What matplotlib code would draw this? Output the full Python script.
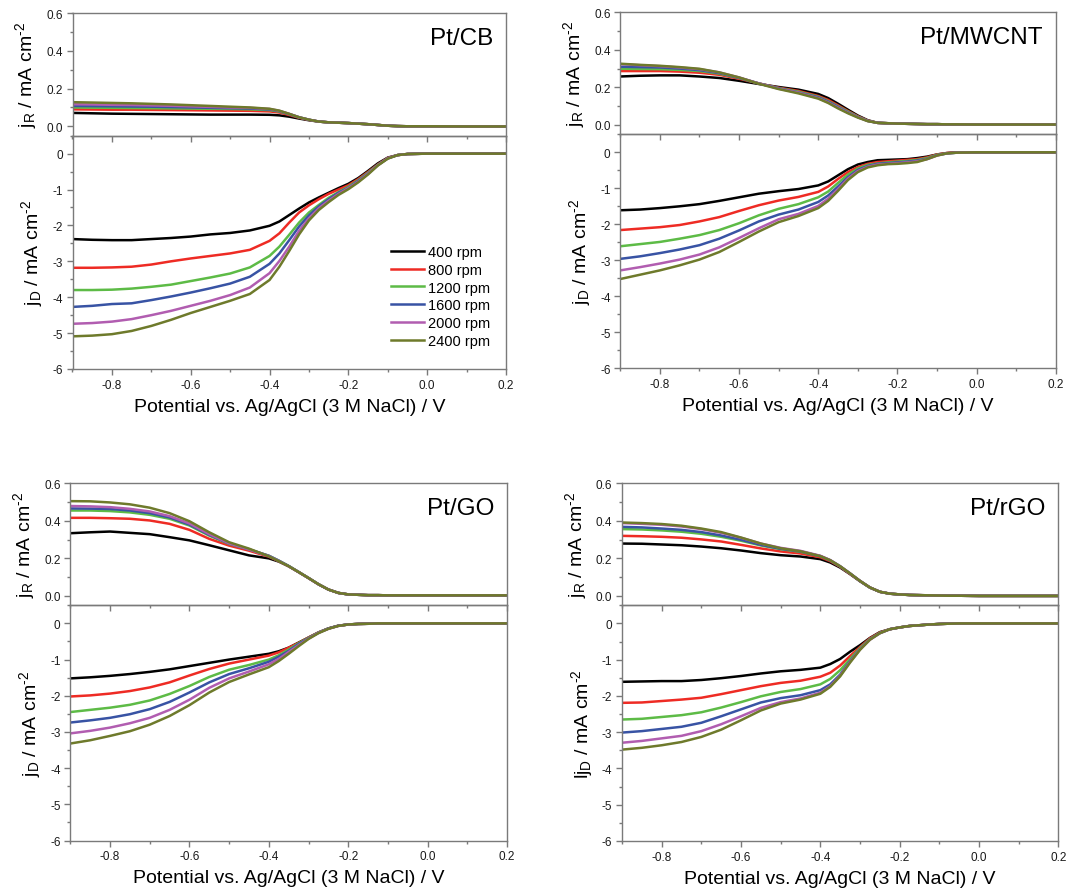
import matplotlib
matplotlib.use("Agg")
import matplotlib.pyplot as plt
from matplotlib.ticker import MultipleLocator, FuncFormatter

plt.rcParams['font.family'] = ['Liberation Sans', 'DejaVu Sans']
plt.rcParams['axes.unicode_minus'] = False
plt.rcParams['mathtext.fontset'] = 'custom'
plt.rcParams['mathtext.rm'] = 'Liberation Sans'
plt.rcParams['mathtext.it'] = 'Liberation Sans:italic'

# ---------------- data ----------------
potential = [-0.9, -0.85, -0.8, -0.75, -0.7, -0.65, -0.6, -0.55, -0.5, -0.45, -0.4, -0.375, -0.35,
             -0.325, -0.3, -0.275, -0.25, -0.225, -0.2, -0.175, -0.15, -0.125, -0.1, -0.075, -0.05,
             0.0, 0.1, 0.2]
rpm_labels = ["400 rpm", "800 rpm", "1200 rpm", "1600 rpm", "2000 rpm", "2400 rpm"]
panel_names = ["Pt/CB", "Pt/MWCNT", "Pt/GO", "Pt/rGO"]

_cb_tail = [.025, .021, .019, .017, .014, .011, .007, .003, .001, 0, 0, -.001, -.001]
cb_jr = [
    [.071, .069, .067, .066, .065, .064, .063, .062, .062, .062, .061, .058, .051, .041, .032] + _cb_tail,
    [.090, .089, .088, .088, .087, .086, .085, .084, .083, .082, .079, .073, .060, .045, .034] + _cb_tail,
    [.100, .099, .098, .097, .096, .095, .094, .093, .092, .090, .086, .078, .064, .047, .035] + _cb_tail,
    [.108, .107, .106, .105, .104, .102, .100, .098, .096, .094, .089, .080, .065, .048, .035] + _cb_tail,
    [.117, .116, .114, .113, .111, .109, .106, .103, .100, .098, .092, .082, .066, .048, .035] + _cb_tail,
    [.128, .126, .124, .122, .119, .116, .112, .108, .104, .100, .093, .083, .066, .048, .035] + _cb_tail,
]
cb_jd = [
    [-2.38, -2.40, -2.41, -2.41, -2.38, -2.35, -2.31, -2.25, -2.21, -2.14, -2.01, -1.89, -1.71, -1.53, -1.36, -1.22, -1.09, -0.96, -0.84, -0.68, -0.48, -0.27, -0.11, -0.04, -0.01, 0, 0, 0],
    [-3.18, -3.18, -3.17, -3.15, -3.09, -3.00, -2.92, -2.85, -2.78, -2.68, -2.43, -2.22, -1.92, -1.64, -1.44, -1.27, -1.12, -1.00, -0.88, -0.71, -0.51, -0.30, -0.12, -0.04, -0.01, 0, 0, 0],
    [-3.80, -3.80, -3.79, -3.76, -3.71, -3.65, -3.55, -3.45, -3.34, -3.17, -2.85, -2.59, -2.26, -1.92, -1.64, -1.43, -1.23, -1.07, -0.92, -0.74, -0.53, -0.31, -0.13, -0.04, -0.01, 0, 0, 0],
    [-4.27, -4.24, -4.19, -4.17, -4.08, -3.98, -3.87, -3.75, -3.62, -3.43, -3.07, -2.78, -2.41, -2.03, -1.72, -1.47, -1.27, -1.09, -0.95, -0.76, -0.55, -0.32, -0.13, -0.04, -0.01, 0, 0, 0],
    [-4.74, -4.72, -4.68, -4.61, -4.50, -4.38, -4.24, -4.10, -3.94, -3.73, -3.33, -2.99, -2.59, -2.15, -1.80, -1.52, -1.31, -1.12, -0.96, -0.78, -0.56, -0.32, -0.13, -0.04, -0.01, 0, 0, 0],
    [-5.09, -5.07, -5.03, -4.94, -4.80, -4.63, -4.44, -4.27, -4.10, -3.91, -3.52, -3.15, -2.71, -2.25, -1.86, -1.57, -1.35, -1.15, -0.99, -0.80, -0.58, -0.33, -0.14, -0.04, -0.01, 0, 0, 0],
]

_mw_tail = [.011, .009, .007, .006, .005, .004, .004, .003, .003, .002, .002, .002]
mw_jr = [
    [.258, .262, .264, .264, .258, .250, .235, .218, .202, .188, .165, .143, .113, .081, .050, .025] + _mw_tail,
    [.287, .287, .287, .284, .278, .267, .246, .221, .198, .181, .154, .133, .104, .074, .046, .023] + _mw_tail,
    [.299, .298, .297, .293, .287, .273, .250, .221, .196, .177, .150, .127, .099, .071, .044, .022] + _mw_tail,
    [.310, .308, .306, .300, .292, .276, .251, .221, .195, .173, .147, .124, .096, .067, .042, .021] + _mw_tail,
    [.324, .318, .313, .306, .297, .280, .253, .221, .193, .172, .143, .120, .092, .065, .041, .021] + _mw_tail,
    [.326, .320, .315, .308, .299, .280, .253, .219, .191, .168, .140, .117, .088, .062, .039, .020] + _mw_tail,
]
mw_jd = [
    [-1.61, -1.59, -1.55, -1.50, -1.44, -1.35, -1.25, -1.15, -1.08, -1.02, -0.92, -0.81, -0.64, -0.47, -0.34, -0.27, -0.22, -0.21, -0.20, -0.19, -0.16, -0.12, -0.06, -0.02, 0, 0, 0, 0],
    [-2.16, -2.12, -2.08, -2.02, -1.92, -1.80, -1.63, -1.47, -1.34, -1.24, -1.10, -0.95, -0.74, -0.55, -0.41, -0.32, -0.27, -0.25, -0.23, -0.21, -0.19, -0.14, -0.06, -0.02, 0, 0, 0, 0],
    [-2.61, -2.55, -2.49, -2.40, -2.30, -2.16, -1.97, -1.75, -1.57, -1.44, -1.25, -1.09, -0.85, -0.62, -0.45, -0.35, -0.31, -0.28, -0.26, -0.24, -0.21, -0.16, -0.07, -0.03, -0.01, 0, 0, 0],
    [-2.96, -2.89, -2.80, -2.70, -2.58, -2.40, -2.17, -1.92, -1.73, -1.59, -1.38, -1.20, -0.95, -0.69, -0.49, -0.38, -0.32, -0.30, -0.28, -0.26, -0.23, -0.18, -0.08, -0.03, -0.01, 0, 0, 0],
    [-3.28, -3.19, -3.09, -2.98, -2.84, -2.64, -2.38, -2.11, -1.86, -1.71, -1.49, -1.29, -1.02, -0.73, -0.52, -0.40, -0.34, -0.32, -0.30, -0.28, -0.25, -0.19, -0.09, -0.03, -0.01, 0, 0, 0],
    [-3.52, -3.40, -3.28, -3.14, -2.98, -2.77, -2.49, -2.20, -1.94, -1.77, -1.55, -1.35, -1.07, -0.77, -0.55, -0.42, -0.36, -0.33, -0.32, -0.30, -0.27, -0.19, -0.09, -0.03, -0.01, 0, 0, 0],
]

_go_tail = [.034, .016, .008, .006, .004, .004, .003, .003, .003, .003, .003, .003]
go_jr = [
    [.334, .339, .343, .336, .329, .313, .296, .270, .243, .216, .200, .183, .158, .127, .095, .062] + _go_tail,
    [.416, .416, .414, .411, .402, .384, .352, .304, .268, .241, .209, .185, .158, .127, .095, .062] + _go_tail,
    [.455, .455, .452, .445, .432, .411, .375, .321, .277, .248, .214, .188, .160, .128, .096, .063] + _go_tail,
    [.466, .465, .463, .455, .441, .418, .380, .325, .279, .248, .214, .188, .159, .127, .095, .062] + _go_tail,
    [.479, .477, .473, .464, .450, .425, .386, .329, .280, .248, .212, .186, .158, .127, .095, .062] + _go_tail,
    [.505, .504, .498, .488, .470, .441, .398, .339, .286, .252, .211, .185, .158, .127, .095, .062] + _go_tail,
]
_go_dtail = [-0.03, -0.015, -0.01, 0, 0, 0, 0, 0, 0, 0]
go_jd = [
    [-1.52, -1.49, -1.45, -1.40, -1.34, -1.27, -1.18, -1.09, -1.00, -0.92, -0.84, -0.77, -0.67, -0.53, -0.39, -0.25, -0.14, -0.065] + _go_dtail,
    [-2.02, -1.99, -1.94, -1.87, -1.77, -1.63, -1.44, -1.26, -1.11, -1.00, -0.89, -0.80, -0.67, -0.54, -0.39, -0.25, -0.14, -0.065] + _go_dtail,
    [-2.45, -2.39, -2.33, -2.25, -2.13, -1.95, -1.73, -1.48, -1.28, -1.15, -1.00, -0.88, -0.72, -0.55, -0.40, -0.25, -0.14, -0.065] + _go_dtail,
    [-2.74, -2.68, -2.61, -2.51, -2.37, -2.17, -1.91, -1.63, -1.40, -1.24, -1.06, -0.92, -0.76, -0.57, -0.41, -0.26, -0.14, -0.065] + _go_dtail,
    [-3.04, -2.97, -2.88, -2.76, -2.61, -2.39, -2.11, -1.78, -1.52, -1.33, -1.13, -0.98, -0.79, -0.60, -0.42, -0.26, -0.15, -0.07] + _go_dtail,
    [-3.32, -3.23, -3.11, -2.98, -2.80, -2.56, -2.26, -1.91, -1.62, -1.41, -1.21, -1.04, -0.84, -0.63, -0.43, -0.27, -0.15, -0.07] + _go_dtail,
]

_rg_tail = [.022, .012, .008, .005, .004, .003, .002, .001, .001, 0, 0, 0]
rg_jr = [
    [.279, .278, .274, .270, .263, .254, .242, .228, .217, .210, .196, .178, .151, .116, .078, .044] + _rg_tail,
    [.320, .318, .315, .310, .301, .290, .272, .253, .237, .226, .206, .185, .155, .117, .080, .045] + _rg_tail,
    [.356, .354, .349, .342, .331, .315, .294, .269, .249, .235, .212, .189, .157, .119, .080, .045] + _rg_tail,
    [.368, .365, .359, .352, .340, .322, .299, .272, .251, .237, .212, .190, .158, .120, .080, .045] + _rg_tail,
    [.388, .384, .379, .370, .356, .336, .310, .279, .256, .240, .214, .191, .158, .120, .080, .045] + _rg_tail,
    [.391, .388, .383, .374, .359, .340, .311, .279, .254, .238, .212, .190, .158, .120, .080, .045] + _rg_tail,
]
_rg_dtail = [-0.16, -0.11, -0.07, -0.05, -0.03, -0.015, -0.007, 0, 0, 0, 0]
rg_jd = [
    [-1.61, -1.60, -1.59, -1.59, -1.56, -1.51, -1.45, -1.38, -1.32, -1.28, -1.22, -1.12, -0.98, -0.78, -0.60, -0.40, -0.24] + _rg_dtail,
    [-2.19, -2.18, -2.14, -2.10, -2.05, -1.95, -1.84, -1.73, -1.64, -1.58, -1.47, -1.36, -1.16, -0.90, -0.65, -0.41, -0.25] + _rg_dtail,
    [-2.65, -2.63, -2.58, -2.53, -2.45, -2.32, -2.17, -2.01, -1.89, -1.81, -1.68, -1.53, -1.29, -0.98, -0.68, -0.43, -0.26] + _rg_dtail,
    [-3.01, -2.97, -2.91, -2.85, -2.74, -2.56, -2.37, -2.18, -2.06, -1.98, -1.84, -1.68, -1.41, -1.04, -0.71, -0.44, -0.27] + _rg_dtail,
    [-3.29, -3.24, -3.17, -3.10, -2.97, -2.78, -2.56, -2.33, -2.17, -2.07, -1.91, -1.73, -1.44, -1.06, -0.72, -0.45, -0.27] + _rg_dtail,
    [-3.48, -3.43, -3.36, -3.27, -3.13, -2.93, -2.67, -2.40, -2.21, -2.10, -1.94, -1.75, -1.46, -1.08, -0.73, -0.45, -0.27] + _rg_dtail,
]

# ---------------- style ----------------
colors = ["#000000", "#EE2B24", "#5DBB46", "#3853A4", "#B15DB0", "#6E7A2B"]
spine_col = "#7a7a7a"
W, H = 1067, 895
fig = plt.figure(figsize=(W / 100, H / 100), dpi=100)

# (left, top, mid, right, bottom) in pixels
boxes = [
    (72.5, 14.3, 136.7, 506.0, 370.0),
    (620.3, 13.3, 135.3, 1055.8, 369.3),
    (70.3, 484.3, 606.3, 507.1, 841.5),
    (622.0, 484.3, 606.3, 1058.3, 842.0),
]
jr_sets = [cb_jr, mw_jr, go_jr, rg_jr]
jd_sets = [cb_jd, mw_jd, go_jd, rg_jd]
sup = r"$^\mathregular{\text{-}2}$"
jd_labels = [r"j$_\mathregular{D}$ / mA cm" + sup] * 3 + [r"lj$_\mathregular{D}$ / mA cm" + sup]
jr_label = r"j$_\mathregular{R}$ / mA cm" + sup

xfmt = FuncFormatter(lambda v, p: f"{round(v, 1) + 0.0:.1f}")


def style(ax, show_xlabels):
    for s in ax.spines.values():
        s.set_color(spine_col)
        s.set_linewidth(1.0)
    ax.tick_params(which='both', direction='out', color=spine_col, labelsize=8.5,
                   labelcolor='#1a1a1a', top=False, right=False, width=1.0)
    ax.tick_params(which='major', length=4.0, pad=3)
    ax.tick_params(which='minor', length=2.2)
    ax.set_xlim(-0.9, 0.2)
    ax.xaxis.set_major_locator(MultipleLocator(0.2))
    ax.xaxis.set_minor_locator(MultipleLocator(0.1))
    ax.xaxis.set_major_formatter(xfmt)
    if not show_xlabels:
        ax.tick_params(axis='x', labelbottom=False)


for i in range(4):
    l, t, m, r, b = boxes[i]
    ax_r = fig.add_axes([l / W, 1 - m / H, (r - l) / W, (m - t) / H])
    ax_d = fig.add_axes([l / W, 1 - b / H, (r - l) / W, (b - m) / H])
    wpx = r - l

    for k in range(6):
        ax_d.plot(potential, jd_sets[i][k], color=colors[k], lw=1.8, label=rpm_labels[k],
                  solid_joinstyle='round')
        ax_r.plot(potential, jr_sets[i][k], color=colors[k], lw=1.8, solid_joinstyle='round')

    style(ax_r, False)
    style(ax_d, True)
    ax_d.set_zorder(1)
    ax_r.set_zorder(2)
    ax_r.patch.set_alpha(0)

    ax_r.set_ylim(-0.05, 0.6)
    ax_r.yaxis.set_major_locator(MultipleLocator(0.2))
    ax_r.yaxis.set_minor_locator(MultipleLocator(0.1))
    ax_r.yaxis.set_major_formatter(FuncFormatter(lambda v, p: f"{round(v, 1) + 0.0:.1f}"))

    ax_d.set_ylim(-6, 0.5)
    ax_d.yaxis.set_major_locator(MultipleLocator(1))
    ax_d.yaxis.set_minor_locator(MultipleLocator(0.5))
    ax_d.yaxis.set_major_formatter(FuncFormatter(lambda v, p: f"{int(round(v))}"))

    ax_r.set_ylabel(jr_label, fontsize=14)
    ax_r.yaxis.set_label_coords(-33 / wpx, 0.5)
    ax_d.set_ylabel(jd_labels[i], fontsize=14)
    ax_d.yaxis.set_label_coords(-27 / wpx, 0.5)
    ax_d.set_xlabel("Potential vs. Ag/AgCl (3 M NaCl) / V", fontsize=14, labelpad=5)

    ax_r.text(1 - 13 / wpx, 0.80, panel_names[i], transform=ax_r.transAxes,
              ha='right', va='center', fontsize=17.5)

    if i == 0:
        ax_d.legend(loc='upper left', bbox_to_anchor=((390.7 - l) / wpx, (b - 246) / (b - m)),
                    frameon=False, fontsize=10.5, handlelength=2.3, handletextpad=0.25,
                    labelspacing=0.26, borderpad=0, borderaxespad=0)

fig.savefig("out.png", dpi=100)
